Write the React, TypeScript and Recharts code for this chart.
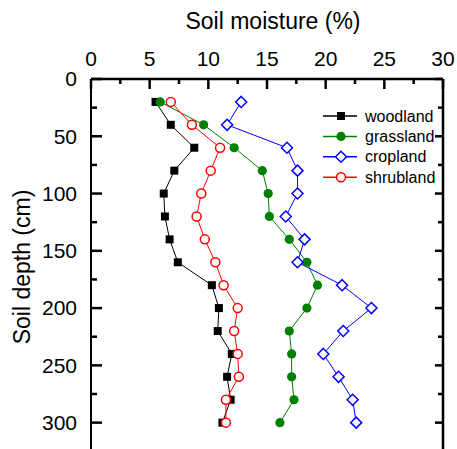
import { LineChart, Line, XAxis, YAxis, Label, ReferenceLine } from "recharts";

const depths = [20, 40, 60, 80, 100, 120, 140, 160, 180, 200, 220, 240, 260, 280, 300];
const woodland = [5.5, 6.8, 8.8, 7.1, 6.2, 6.3, 6.7, 7.4, 10.3, 10.9, 10.8, 12.0, 11.6, 11.9, 11.2];
const grassland = [5.9, 9.6, 12.2, 14.6, 15.1, 15.2, 16.9, 18.4, 19.3, 18.4, 16.9, 17.1, 17.1, 17.3, 16.1];
const cropland = [12.8, 11.6, 16.7, 17.6, 17.6, 16.6, 18.2, 17.6, 21.4, 23.9, 21.5, 19.8, 21.1, 22.3, 22.6];
const shrubland = [6.8, 8.6, 11.0, 10.2, 9.4, 9.0, 9.7, 10.6, 11.3, 12.5, 12.2, 12.5, 12.6, 11.5, 11.5];

const xTicks = [0, 2.5, 5, 7.5, 10, 12.5, 15, 17.5, 20, 22.5, 25, 27.5, 30];
const yTicks = [0, 25, 50, 75, 100, 125, 150, 175, 200, 225, 250, 275, 300, 325];

const data = depths.map((d, i) => ({
  depth: d,
  woodland: woodland[i],
  grassland: grassland[i],
  cropland: cropland[i],
  shrubland: shrubland[i],
}));

const FONT = "'Liberation Sans', Arial, Helvetica, sans-serif";

// tick marks point into the plot, minor ticks are shorter and unlabeled
function TopTick({ x, y, payload }: any) {
  const major = payload.value % 5 === 0;
  return (
    <g>
      <line x1={x} y1={y} x2={x} y2={y + (major ? 10 : 5)} stroke="#000" strokeWidth={2.5} />
      {major && (
        <text x={x} y={y - 20} dy="0.35em" textAnchor="middle" fontSize={21} fontFamily={FONT} fill="#000">
          {payload.value}
        </text>
      )}
    </g>
  );
}

function LeftTick({ x, y, payload }: any) {
  const major = payload.value % 50 === 0;
  return (
    <g>
      <line x1={x} y1={y} x2={x + (major ? 11 : 6)} y2={y} stroke="#000" strokeWidth={2.5} />
      {major && payload.value <= 300 && (
        <text x={x - 14} y={y} dy="0.35em" textAnchor="end" fontSize={21} fontFamily={FONT} fill="#000">
          {payload.value}
        </text>
      )}
    </g>
  );
}

function RightTick({ x, y, payload }: any) {
  const major = payload.value % 50 === 0;
  return <line x1={x} y1={y} x2={x - (major ? 8 : 5)} y2={y} stroke="#000" strokeWidth={2.5} />;
}

function XTitle(props: any) {
  const vb = props.viewBox || { x: 0, y: 0, width: 0 };
  return (
    <text x={vb.x + vb.width / 2 + 6} y={vb.y + 21} dy="0.35em" textAnchor="middle" fontSize={23} fontFamily={FONT} fill="#000">
      Soil moisture (%)
    </text>
  );
}

function YTitle(props: any) {
  const vb = props.viewBox || { x: 0, y: 0, height: 0 };
  const cx = 22;
  const cy = vb.y + vb.height / 2 - 1;
  return (
    <text x={cx} y={cy} dy="0.35em" textAnchor="middle" fontSize={23} fontFamily={FONT} fill="#000" transform={`rotate(-90, ${cx}, ${cy})`}>
      Soil depth (cm)
    </text>
  );
}

const squareDot = (p: any) => (
  <rect key={`w${p.index}`} x={p.cx - 4} y={p.cy - 4} width={8} height={8} fill="#000" />
);
const greenDot = (p: any) => <circle key={`g${p.index}`} cx={p.cx} cy={p.cy} r={4.6} fill="#008000" />;
const diamondDot = (p: any) => (
  <path
    key={`c${p.index}`}
    d={`M${p.cx},${p.cy - 5.5}L${p.cx + 5.5},${p.cy}L${p.cx},${p.cy + 5.5}L${p.cx - 5.5},${p.cy}Z`}
    fill="#fff"
    stroke="#0000ff"
    strokeWidth={1.5}
  />
);
const redDot = (p: any) => (
  <circle key={`s${p.index}`} cx={p.cx} cy={p.cy} r={4.5} fill="#fff" stroke="#ff0000" strokeWidth={1.5} />
);

const legendItems = [
  { name: "woodland", color: "#000", shape: "square" },
  { name: "grassland", color: "#008000", shape: "dot" },
  { name: "cropland", color: "#0000ff", shape: "diamond" },
  { name: "shrubland", color: "#ff0000", shape: "circle" },
];

function LegendBox() {
  return (
    <svg width={130} height={90} style={{ position: "absolute", left: 318, top: 105 }}>
      {legendItems.map((it, i) => {
        const cy = 11 + i * 20.4;
        const cx = 23;
        let marker;
        if (it.shape === "square") marker = <rect x={cx - 4} y={cy - 4} width={8} height={8} fill={it.color} />;
        else if (it.shape === "dot") marker = <circle cx={cx} cy={cy} r={4.6} fill={it.color} />;
        else if (it.shape === "diamond")
          marker = (
            <path
              d={`M${cx},${cy - 5.5}L${cx + 5.5},${cy}L${cx},${cy + 5.5}L${cx - 5.5},${cy}Z`}
              fill="#fff"
              stroke={it.color}
              strokeWidth={1.5}
            />
          );
        else marker = <circle cx={cx} cy={cy} r={4.5} fill="#fff" stroke={it.color} strokeWidth={1.5} />;
        return (
          <g key={it.name}>
            <line x1={5} y1={cy} x2={39} y2={cy} stroke={it.color} strokeWidth={1.5} />
            {marker}
            <text x={47} y={cy} dy="0.35em" fontSize={16} fontFamily={FONT} fill="#000">
              {it.name}
            </text>
          </g>
        );
      })}
    </svg>
  );
}

export default function App() {
  return (
    <div style={{ position: "absolute", left: 0, top: 0, width: 457, height: 449, overflow: "hidden", background: "#fff" }}>
      <LineChart
        width={457}
        height={470}
        data={data}
        layout="vertical"
        margin={{ top: 0, right: 13, bottom: 13, left: 0 }}
      >
        <XAxis
          type="number"
          orientation="top"
          domain={[0, 30]}
          ticks={xTicks}
          interval={0}
          height={79}
          tick={<TopTick />}
          tickLine={false}
          tickSize={0}
          tickMargin={0}
          axisLine={{ stroke: "#000", strokeWidth: 2.5 }}
        >
          <Label content={XTitle} />
        </XAxis>
        <YAxis
          type="number"
          dataKey="depth"
          domain={[0, 330]}
          ticks={yTicks}
          interval={0}
          width={91}
          tick={<LeftTick />}
          tickLine={false}
          tickSize={0}
          tickMargin={0}
          axisLine={{ stroke: "#000", strokeWidth: 2 }}
        >
          <Label content={YTitle} />
        </YAxis>
        <YAxis
          yAxisId="right"
          orientation="right"
          type="number"
          dataKey="depth"
          domain={[0, 330]}
          ticks={yTicks}
          interval={0}
          width={1}
          tick={<RightTick />}
          tickLine={false}
          tickSize={0}
          tickMargin={0}
          axisLine={{ stroke: "#000", strokeWidth: 2 }}
        />
        <ReferenceLine x={30} stroke="#000" strokeWidth={2.5} ifOverflow="visible" />
        <Line dataKey="woodland" stroke="#000" strokeWidth={1} dot={squareDot} isAnimationActive={false} />
        <Line dataKey="grassland" stroke="#008000" strokeWidth={1} dot={greenDot} isAnimationActive={false} />
        <Line dataKey="cropland" stroke="#0000ff" strokeWidth={1} dot={diamondDot} isAnimationActive={false} />
        <Line dataKey="shrubland" stroke="#ff0000" strokeWidth={1} dot={redDot} isAnimationActive={false} />
      </LineChart>
      <LegendBox />
    </div>
  );
}
